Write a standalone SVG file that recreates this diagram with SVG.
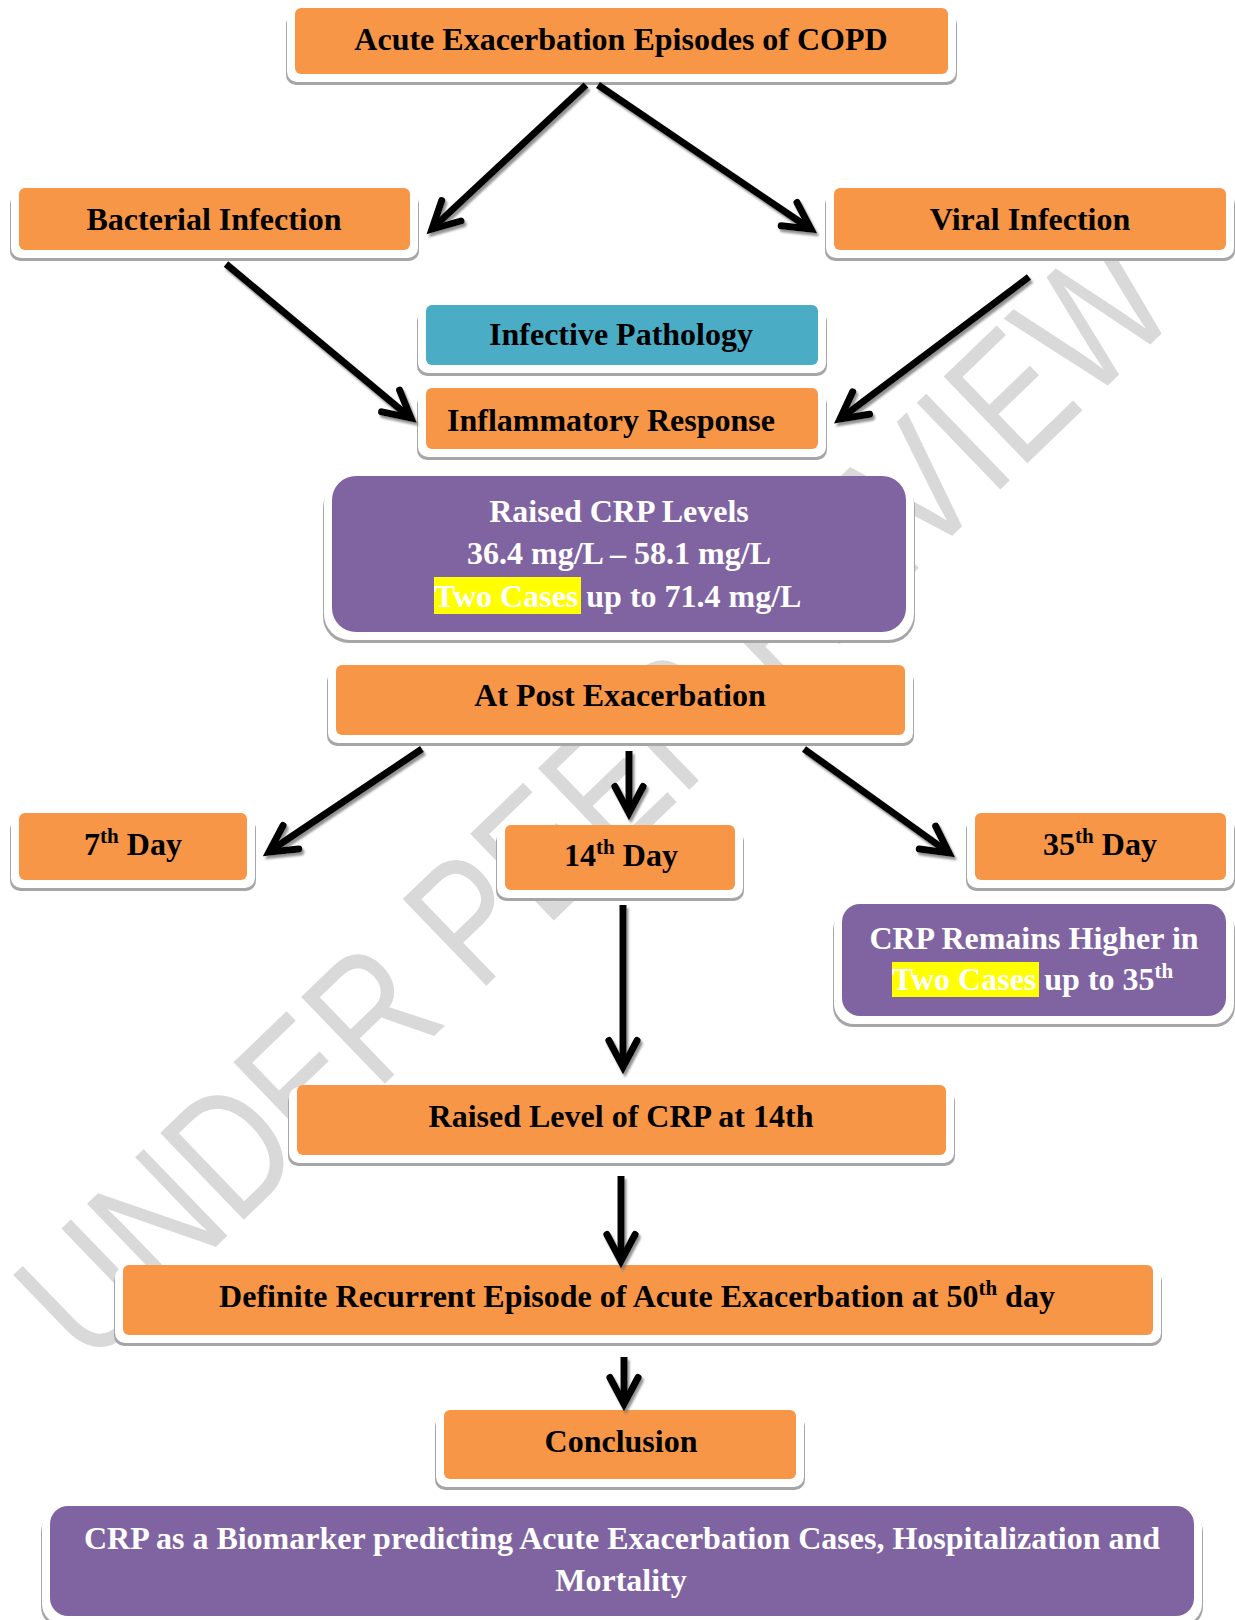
<svg xmlns="http://www.w3.org/2000/svg" width="1235" height="1620" viewBox="0 0 1235 1620">
<style>
.sh{fill:#A6A6A6}
.rim{fill:#FFFFFF}
.or{fill:#F79646}
.tl{fill:#4BACC6}
.pu{fill:#8064A2}
.t{font-family:"Liberation Serif","Times New Roman",serif;font-weight:bold;font-size:32px;fill:#000}
.w{fill:#FFFFFF}
.hl{fill:#FFFF00}
.ln{fill:none;stroke:#000;stroke-width:7;stroke-linecap:butt}
.hd{fill:none;stroke:#000;stroke-width:7;stroke-linecap:round;stroke-linejoin:miter;stroke-miterlimit:10}
.wm{font-family:"Liberation Sans","Arial",sans-serif;font-size:175px;fill:#D9D9D9}
</style>
<defs>
<filter id="ds" x="-10%" y="-10%" width="130%" height="130%">
<feDropShadow dx="2" dy="3" stdDeviation="0.8" flood-color="#777" flood-opacity="0.8"/>
</filter>
</defs>
<rect width="1235" height="1620" fill="#FFFFFF"/>
<g id="watermark">
<text class="wm" transform="translate(592,796) rotate(-44)" x="0" y="63" text-anchor="middle" textLength="1520" lengthAdjust="spacingAndGlyphs">UNDER PEER REVIEW</text>
</g>

<g id="n-top">
<rect class="sh" x="286" y="14" width="671" height="71" rx="10"/>
<rect class="rim" x="287" y="10" width="669" height="72" rx="10"/>
<rect class="or" x="295" y="8" width="653" height="66" rx="6"/>
<text class="t" x="621" y="50" text-anchor="middle">Acute Exacerbation Episodes of COPD</text>
</g>

<g id="n-bacterial">
<rect class="sh" x="10" y="194" width="409" height="67" rx="10"/>
<rect class="rim" x="11" y="190" width="407" height="68" rx="10"/>
<rect class="or" x="19" y="188" width="391" height="62" rx="6"/>
<text class="t" x="214" y="230" text-anchor="middle">Bacterial Infection</text>
</g>

<g id="n-viral">
<rect class="sh" x="825" y="194" width="410" height="67" rx="10"/>
<rect class="rim" x="826" y="190" width="408" height="68" rx="10"/>
<rect class="or" x="834" y="188" width="392" height="62" rx="6"/>
<text class="t" x="1030" y="230" text-anchor="middle">Viral Infection</text>
</g>

<g id="n-infective">
<rect class="sh" x="417" y="311" width="410" height="65" rx="10"/>
<rect class="rim" x="418" y="307" width="408" height="66" rx="10"/>
<rect class="tl" x="426" y="305" width="392" height="60" rx="6"/>
<text class="t" x="621" y="345" text-anchor="middle">Infective Pathology</text>
</g>

<g id="n-inflammatory">
<rect class="sh" x="417" y="394" width="410" height="66" rx="10"/>
<rect class="rim" x="418" y="390" width="408" height="67" rx="10"/>
<rect class="or" x="426" y="388" width="392" height="61" rx="6"/>
<text class="t" x="611" y="431" text-anchor="middle">Inflammatory Response</text>
</g>

<g id="n-raised-crp">
<rect class="sh" x="323" y="482" width="592" height="161" rx="26"/>
<rect class="rim" x="324" y="478" width="590" height="162" rx="26"/>
<rect class="pu" x="332" y="476" width="574" height="156" rx="24"/>
<text class="t w" x="619" y="522" text-anchor="middle">Raised CRP Levels</text>
<text class="t w" x="619" y="564" text-anchor="middle">36.4 mg/L – 58.1 mg/L</text>
<rect class="hl" x="434" y="577" width="147" height="37"/>
<text class="t w" x="434" y="607">Two Cases up to 71.4 mg/L</text>
</g>

<g id="n-post">
<rect class="sh" x="327" y="671" width="587" height="75" rx="10"/>
<rect class="rim" x="328" y="667" width="585" height="76" rx="10"/>
<rect class="or" x="336" y="665" width="569" height="70" rx="6"/>
<text class="t" x="620" y="706" text-anchor="middle">At Post Exacerbation</text>
</g>

<g id="n-7th">
<rect class="sh" x="10" y="819" width="246" height="72" rx="10"/>
<rect class="rim" x="11" y="815" width="244" height="73" rx="10"/>
<rect class="or" x="19" y="813" width="228" height="67" rx="6"/>
<text class="t" x="133" y="855" text-anchor="middle">7<tspan font-size="21" dy="-12">th</tspan><tspan dy="12"> Day</tspan></text>
</g>

<g id="n-14th">
<rect class="sh" x="496" y="831" width="248" height="70" rx="10"/>
<rect class="rim" x="497" y="827" width="246" height="71" rx="10"/>
<rect class="or" x="505" y="825" width="230" height="65" rx="6"/>
<text class="t" x="621" y="866" text-anchor="middle">14<tspan font-size="21" dy="-12">th</tspan><tspan dy="12"> Day</tspan></text>
</g>

<g id="n-35th">
<rect class="sh" x="966" y="819" width="269" height="72" rx="10"/>
<rect class="rim" x="967" y="815" width="267" height="73" rx="10"/>
<rect class="or" x="975" y="813" width="251" height="67" rx="6"/>
<text class="t" x="1100" y="855" text-anchor="middle">35<tspan font-size="21" dy="-12">th</tspan><tspan dy="12"> Day</tspan></text>
</g>

<g id="n-crp-remains">
<rect class="sh" x="833" y="910" width="402" height="117" rx="20"/>
<rect class="rim" x="834" y="906" width="400" height="118" rx="20"/>
<rect class="pu" x="842" y="904" width="384" height="112" rx="18"/>
<text class="t w" x="1034" y="949" text-anchor="middle">CRP Remains Higher in</text>
<rect class="hl" x="892" y="962" width="147" height="35"/>
<text class="t w" x="892" y="990">Two Cases up to 35<tspan font-size="21" dy="-12">th</tspan></text>
</g>

<g id="n-raised-14th">
<rect class="sh" x="288" y="1091" width="667" height="75" rx="10"/>
<rect class="rim" x="289" y="1087" width="665" height="76" rx="10"/>
<rect class="or" x="297" y="1085" width="649" height="70" rx="6"/>
<text class="t" x="621" y="1127" text-anchor="middle">Raised Level of CRP at 14th</text>
</g>

<g id="n-definite">
<rect class="sh" x="114" y="1271" width="1048" height="75" rx="10"/>
<rect class="rim" x="115" y="1267" width="1046" height="76" rx="10"/>
<rect class="or" x="123" y="1265" width="1030" height="70" rx="6"/>
<text class="t" x="637" y="1307" text-anchor="middle">Definite Recurrent Episode of Acute Exacerbation at 50<tspan font-size="21" dy="-12">th</tspan><tspan dy="12"> day</tspan></text>
</g>

<g id="n-conclusion">
<rect class="sh" x="435" y="1416" width="370" height="74" rx="10"/>
<rect class="rim" x="436" y="1412" width="368" height="75" rx="10"/>
<rect class="or" x="444" y="1410" width="352" height="69" rx="6"/>
<text class="t" x="621" y="1452" text-anchor="middle">Conclusion</text>
</g>

<g id="n-biomarker">
<rect class="sh" x="41" y="1512" width="1162" height="115" rx="20"/>
<rect class="rim" x="42" y="1508" width="1160" height="116" rx="20"/>
<rect class="pu" x="50" y="1506" width="1144" height="110" rx="18"/>
<text class="t w" x="622" y="1549" text-anchor="middle">CRP as a Biomarker predicting Acute Exacerbation Cases, Hospitalization and</text>
<text class="t w" x="621" y="1591" text-anchor="middle">Mortality</text>
</g>

<g id="connectors" filter="url(#ds)">
<path class="ln" d="M586,85 L436,225"/>
<path class="hd" d="M441.7,200.6 L432,229 L461,221"/>
<path class="ln" d="M598,85 L806,226"/>
<path class="hd" d="M797,202.5 L811,229 L781.2,225.8"/>
<path class="ln" d="M226,264 L407,415"/>
<path class="hd" d="M399.6,390.2 L411,418 L381.6,411.9"/>
<path class="ln" d="M1029,277 L844,416"/>
<path class="hd" d="M869.6,414.3 L840,419 L852.7,391.8"/>
<path class="ln" d="M422,749 L273,849"/>
<path class="hd" d="M298.8,848.9 L269,852 L283.1,825.5"/>
<path class="ln" d="M629,751 L629,808"/>
<path class="hd" d="M614.9,786.5 L629,813 L643.1,786.5"/>
<path class="ln" d="M804,749 L945,850"/>
<path class="hd" d="M935.7,826.1 L949,853 L919.3,849"/>
<path class="ln" d="M623,905 L623,1062"/>
<path class="hd" d="M608.9,1040.5 L623,1067 L637.1,1040.5"/>
<path class="ln" d="M621,1176 L621,1256"/>
<path class="hd" d="M606.9,1234.5 L621,1261 L635.1,1234.5"/>
<path class="ln" d="M624,1357 L624,1399"/>
<path class="hd" d="M609.9,1377.5 L624,1404 L638.1,1377.5"/>
</g>
</svg>
